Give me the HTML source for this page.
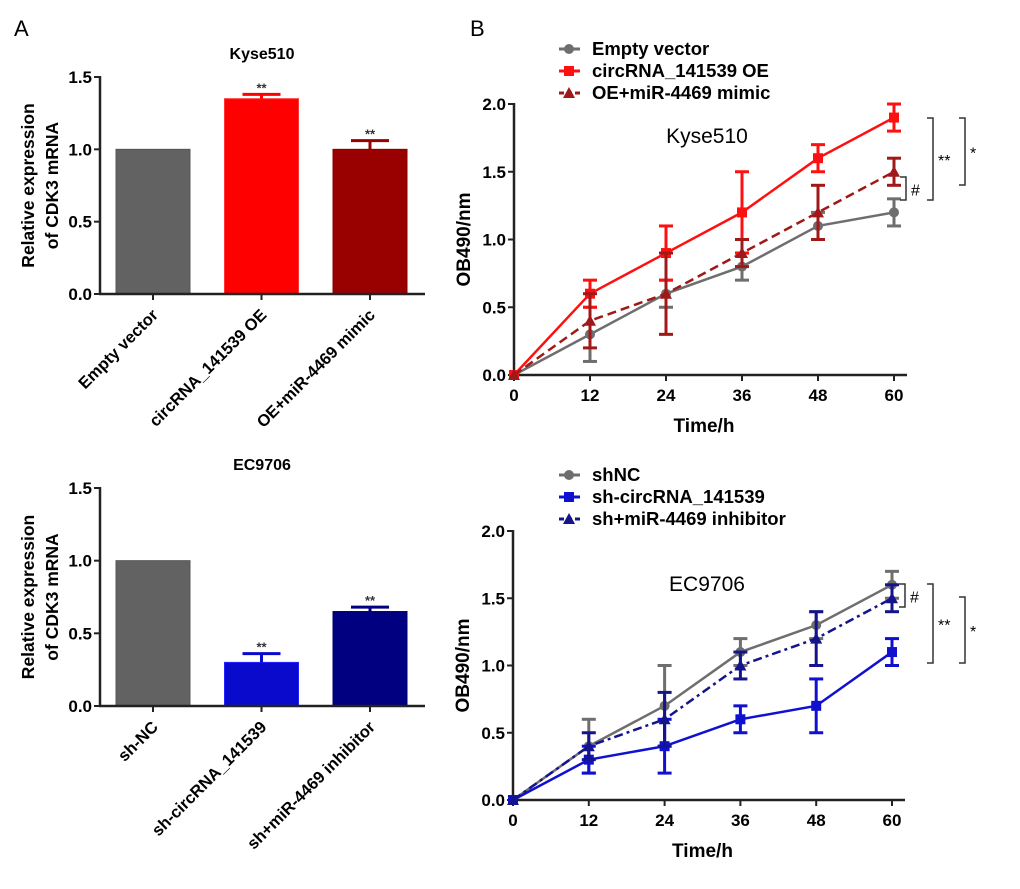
<!DOCTYPE html>
<html><head><meta charset="utf-8">
<style>
html,body{margin:0;padding:0;background:#fff;}
svg{display:block;font-family:"Liberation Sans",Arial,sans-serif;font-weight:bold;}
</style></head>
<body>
<svg id="fig" width="1020" height="889" viewBox="0 0 1020 889">
<text x="14" y="36" font-size="22" font-weight="normal">A</text>
<text x="470" y="36" font-size="22" font-weight="normal">B</text>
</svg>
<script>
// ---- Bar chart data ----
const barCats1 = ["Empty vector","circRNA_141539 OE","OE+miR-4469 mimic"];
const barVals1 = [1.0, 1.35, 1.0];
const barErr1 = [0, 0.03, 0.06];
const barCats2 = ["sh-NC","sh-circRNA_141539","sh+miR-4469 inhibitor"];
const barVals2 = [1.0, 0.3, 0.65];
const barErr2 = [0, 0.06, 0.03];
const barTicks = [0, 0.5, 1.0, 1.5];
// ---- Line chart data ----
const timePoints = [0, 12, 24, 36, 48, 60];
const lineTicks = [0, 0.5, 1.0, 1.5, 2.0];
const emptyVals = [0, 0.3, 0.6, 0.8, 1.1, 1.2];
const emptyErr = [0, 0.2, 0.1, 0.1, 0.1, 0.1];
const oeVals = [0, 0.6, 0.9, 1.2, 1.6, 1.9];
const oeErr = [0, 0.1, 0.2, 0.3, 0.1, 0.1];
const mimicVals = [0, 0.4, 0.6, 0.9, 1.2, 1.5];
const mimicErr = [0, 0.2, 0.3, 0.1, 0.2, 0.1];
const shncVals = [0, 0.4, 0.7, 1.1, 1.3, 1.6];
const shncErr = [0, 0.2, 0.3, 0.1, 0.1, 0.1];
const shVals = [0, 0.3, 0.4, 0.6, 0.7, 1.1];
const shErr = [0, 0.1, 0.2, 0.1, 0.2, 0.1];
const inhVals = [0, 0.4, 0.6, 1.0, 1.2, 1.5];
const inhErr = [0, 0.1, 0.2, 0.1, 0.2, 0.1];

const NS = "http://www.w3.org/2000/svg";
const svg = document.getElementById('fig');
function mk(tag, attrs, parent, text){
  const e = document.createElementNS(NS, tag);
  for (const k in attrs) e.setAttribute(k, attrs[k]);
  if (text !== undefined) e.textContent = text;
  (parent || svg).appendChild(e);
  return e;
}

function barChart(o){
  const g = mk('g', {});
  
  
  const y = v => o.y0 - (v / 1.5) * (o.y0 - o.y15);
  const xc = i => o.ax + 53 + i * 108.5;
  const t = mk('text', {x: 262, y: o.y15 - 18, 'font-size': 16, 'text-anchor': 'middle'}, g, o.title);
  
  
  o.vals.forEach((v, i) => {
    const r = mk('rect', {x: xc(i) - 37, y: y(v), width: 74, height: y(0) - y(v), fill: o.colors[i], stroke: o.strokes[i], 'stroke-width': 1}, g);
    
    
    if (o.err[i] > 0) {
      const ey = y(v + o.err[i]);
      mk('line', {x1: xc(i), x2: xc(i), y1: y(v), y2: ey, stroke: o.colors[i], 'stroke-width': 3}, g);
      mk('line', {x1: xc(i) - 19, x2: xc(i) + 19, y1: ey, y2: ey, stroke: o.colors[i], 'stroke-width': 3}, g);
      const s = mk('text', {x: xc(i), y: ey - 2, 'font-size': 13, 'text-anchor': 'middle', fill: '#333'}, g, '**');
      
      
    }
    const lab = mk('text', {x: 0, y: 0, 'font-size': 16.5, 'text-anchor': 'end', transform: `translate(${xc(i) + 6},${o.y0 + 22}) rotate(-45)`}, g, o.cats[i]);
    
    
    mk('line', {x1: xc(i), x2: xc(i), y1: o.y0, y2: o.y0 + 6, stroke: '#222', 'stroke-width': 2}, g);
  });
  mk('line', {x1: o.ax, x2: o.ax, y1: o.y15 - 1, y2: o.y0 + 1, stroke: '#222', 'stroke-width': 2.5}, g);
  mk('line', {x1: o.ax - 1, x2: 425, y1: o.y0, y2: o.y0, stroke: '#222', 'stroke-width': 2.5}, g);
  barTicks.forEach(v => {
    mk('line', {x1: o.ax - 6, x2: o.ax, y1: y(v), y2: y(v), stroke: '#222', 'stroke-width': 2}, g);
    const tl = mk('text', {x: o.ax - 8, y: y(v) + 6, 'font-size': 17, 'text-anchor': 'end'}, g, v.toFixed(1));
    
    
  });
  const cy = (o.y0 + o.y15) / 2;
  const yt = mk('text', {x: 0, y: 0, 'font-size': 17.5, 'text-anchor': 'middle', transform: `translate(34,${cy}) rotate(-90)`}, g, 'Relative expression');
  
  
  const yt2 = mk('text', {x: 0, y: 0, 'font-size': 17.5, 'text-anchor': 'middle', transform: `translate(58,${cy}) rotate(-90)`}, g, 'of CDK3 mRNA');
  
  
}

barChart({name: 'bar-chart-kyse510', title: 'Kyse510', ax: 100, y0: 294, y15: 77, cats: barCats1, vals: barVals1, err: barErr1,
  colors: ['#626262', '#ff0000', '#990000'], strokes: ['#555', '#ff3333', '#880000']});
barChart({name: 'bar-chart-ec9706', title: 'EC9706', ax: 100, y0: 706, y15: 488, cats: barCats2, vals: barVals2, err: barErr2,
  colors: ['#626262', '#0a0acc', '#000080'], strokes: ['#555', '#2222ff', '#000066']});

function marker(g, type, x, y, c){
  if (type === 'circle') return mk('circle', {cx: x, cy: y, r: 5, fill: c}, g);
  if (type === 'square') return mk('rect', {x: x - 5, y: y - 5, width: 10, height: 10, fill: c}, g);
  return mk('polygon', {points: `${x},${y - 6} ${x + 6},${y + 5} ${x - 6},${y + 5}`, fill: c}, g);
}

function lineChart(o){
  const g = mk('g', {});
  
  
  const y = v => o.y0 - (v / 2) * (o.y0 - o.y2);
  const x = t => o.ax + (t / 60) * (o.x60 - o.ax);
  mk('line', {x1: o.ax, x2: o.ax, y1: o.y2 - 1, y2: o.y0 + 1, stroke: '#222', 'stroke-width': 2.5}, g);
  mk('line', {x1: o.ax - 1, x2: o.x60 + 13, y1: o.y0, y2: o.y0, stroke: '#222', 'stroke-width': 2.5}, g);
  lineTicks.forEach(v => {
    mk('line', {x1: o.ax - 6, x2: o.ax, y1: y(v), y2: y(v), stroke: '#222', 'stroke-width': 2}, g);
    const tl = mk('text', {x: o.ax - 8, y: y(v) + 6, 'font-size': 17, 'text-anchor': 'end'}, g, v.toFixed(1));
    
    
  });
  timePoints.forEach(t => {
    mk('line', {x1: x(t), x2: x(t), y1: o.y0, y2: o.y0 + 6, stroke: '#222', 'stroke-width': 2}, g);
    const tl = mk('text', {x: x(t), y: o.y0 + 26, 'font-size': 17, 'text-anchor': 'middle'}, g, String(t));
    
    
  });
  const xt = mk('text', {x: (o.ax + o.x60) / 2, y: o.y0 + 57, 'font-size': 19, 'text-anchor': 'middle'}, g, 'Time/h');
  
  
  const yt = mk('text', {x: 0, y: 0, 'font-size': 19, 'text-anchor': 'middle', transform: `translate(${o.ax - 44},${(o.y0 + o.y2) / 2}) rotate(-90)`}, g, 'OB490/nm');
  
  
  const tt = mk('text', {x: 707, y: o.titleY, 'font-size': 21, 'font-weight': 'normal', 'text-anchor': 'middle'}, g, o.title);
  
  
  o.series.forEach((s, si) => {
    const sg = mk('g', {}, g);
    
    
    const pts = timePoints.map((t, i) => x(t) + ',' + y(s.vals[i])).join(' ');
    mk('polyline', {points: pts, fill: 'none', stroke: s.color, 'stroke-width': s.w, 'stroke-dasharray': s.dash || 'none'}, sg);
    timePoints.forEach((t, i) => {
      const e = s.err[i];
      if (e > 0) {
        const a = y(s.vals[i] + e), b = y(s.vals[i] - e);
        mk('line', {x1: x(t), x2: x(t), y1: a, y2: b, stroke: s.color, 'stroke-width': 3}, sg);
        mk('line', {x1: x(t) - 7, x2: x(t) + 7, y1: a, y2: a, stroke: s.color, 'stroke-width': 3}, sg);
        mk('line', {x1: x(t) - 7, x2: x(t) + 7, y1: b, y2: b, stroke: s.color, 'stroke-width': 3}, sg);
      }
      const m = marker(sg, s.marker, x(t), y(s.vals[i]), s.color);
      
      
    });
    const ly = o.legY + si * 22;
    const lg = mk('g', {}, g);
    
    
    mk('line', {x1: 559, x2: 580, y1: ly - 6, y2: ly - 6, stroke: s.color, 'stroke-width': 3, 'stroke-dasharray': s.dash ? '5,3' : 'none'}, lg);
    marker(lg, s.marker, 569, ly - 6, s.color);
    mk('text', {x: 592, y: ly, 'font-size': 18.5}, lg, s.label);
  });
  o.brackets.forEach(b => {
    const bg = mk('g', {}, g);
    
    
    mk('polyline', {points: `${b.x - 6},${b.y1} ${b.x},${b.y1} ${b.x},${b.y2} ${b.x - 6},${b.y2}`, fill: 'none', stroke: '#333', 'stroke-width': 1.5}, bg);
    mk('text', {x: b.x + 5, y: (b.y1 + b.y2) / 2 + 7, 'font-size': 16, 'font-weight': 'normal'}, bg, b.label);
  });
}

lineChart({name: 'line-chart-kyse510', title: 'Kyse510', ax: 514, x60: 894, y0: 375, y2: 104, titleY: 143, legY: 55,
  series: [
    {key: 'empty-vector', label: 'Empty vector', vals: emptyVals, err: emptyErr, color: '#6e6e6e', marker: 'circle', w: 2.5},
    {key: 'circrna-oe', label: 'circRNA_141539 OE', vals: oeVals, err: oeErr, color: '#ff1010', marker: 'square', w: 2.5},
    {key: 'oe-mimic', label: 'OE+miR-4469 mimic', vals: mimicVals, err: mimicErr, color: '#a01818', marker: 'triangle', w: 2.5, dash: '9,5'}
  ],
  brackets: [
    {x: 906, y1: 177, y2: 200, label: '#'},
    {x: 933, y1: 118, y2: 200, label: '**'},
    {x: 965, y1: 118, y2: 185, label: '*'}
  ]});
lineChart({name: 'line-chart-ec9706', title: 'EC9706', ax: 513, x60: 892, y0: 800, y2: 531, titleY: 591, legY: 481,
  series: [
    {key: 'shnc', label: 'shNC', vals: shncVals, err: shncErr, color: '#6e6e6e', marker: 'circle', w: 2.5},
    {key: 'sh-circrna', label: 'sh-circRNA_141539', vals: shVals, err: shErr, color: '#1010d0', marker: 'square', w: 2.5},
    {key: 'sh-inhibitor', label: 'sh+miR-4469 inhibitor', vals: inhVals, err: inhErr, color: '#14148c', marker: 'triangle', w: 2.5, dash: '9,4,3,4'}
  ],
  brackets: [
    {x: 905, y1: 584, y2: 607, label: '#'},
    {x: 933, y1: 584, y2: 663, label: '**'},
    {x: 965, y1: 597, y2: 663, label: '*'}
  ]});
</script>
</body></html>
